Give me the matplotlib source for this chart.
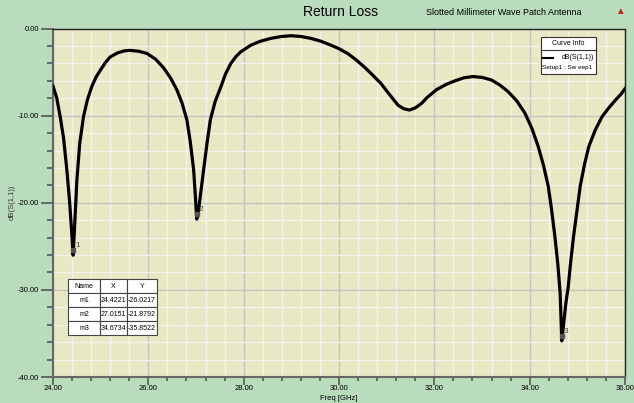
import numpy as np
import matplotlib.pyplot as plt
from matplotlib.ticker import MultipleLocator, FormatStrFormatter
from matplotlib.patches import Rectangle
from matplotlib.lines import Line2D

plt.rcParams['font.family'] = ['Liberation Sans Narrow', 'Liberation Sans', 'DejaVu Sans']

# S11
freq = [24.00, 24.08, 24.15, 24.22, 24.29, 24.35, 24.40, 24.4221, 24.46, 24.50,
        24.56, 24.64, 24.72, 24.81, 24.90, 24.99, 25.10, 25.20, 25.35, 25.50,
        25.62, 25.80, 25.97, 26.15, 26.32, 26.47, 26.60, 26.71, 26.81, 26.88,
        26.95, 26.99, 27.0151, 27.05, 27.10, 27.16, 27.23, 27.30, 27.40, 27.52,
        27.62, 27.73, 27.84, 27.94, 28.15, 28.35, 28.57, 28.80, 28.99, 29.20,
        29.41, 29.62, 29.83, 30.00, 30.18, 30.35, 30.53, 30.70, 30.88, 31.05,
        31.24, 31.36, 31.48, 31.60, 31.73, 31.85, 32.05, 32.25, 32.43, 32.62,
        32.81, 33.00, 33.20, 33.38, 33.55, 33.73, 33.90, 34.05, 34.18, 34.29,
        34.39, 34.46, 34.53, 34.59, 34.64, 34.6734, 34.72, 34.76, 34.81, 34.86,
        34.92, 35.06, 35.15, 35.24, 35.38, 35.52, 35.66, 35.80, 35.92, 36.00]
s11 = [-6.6, -8.0, -10.1, -12.5, -16.2, -20.0, -24.0, -26.0217, -22.0, -17.5,
       -13.2, -10.1, -8.2, -6.7, -5.6, -4.8, -3.9, -3.25, -2.8, -2.55,
       -2.5, -2.6, -2.85, -3.5, -4.5, -5.7, -7.05, -8.6, -10.5, -13.0,
       -16.2, -19.5, -21.8792, -21.0, -18.8, -16.2, -13.2, -10.5, -8.4, -6.7,
       -5.2, -4.0, -3.2, -2.66, -1.9, -1.45, -1.12, -0.9, -0.82, -0.9,
       -1.12, -1.45, -1.9, -2.3, -2.85, -3.55, -4.4, -5.3, -6.3, -7.5,
       -8.8, -9.2, -9.35, -9.1, -8.6, -7.9, -7.0, -6.4, -6.0, -5.65,
       -5.5, -5.6, -5.9, -6.5, -7.25, -8.3, -9.7, -11.5, -13.55, -15.7,
       -18.1, -20.8, -23.9, -27.0, -30.4, -35.8522, -33.5, -31.5, -29.6, -26.8,
       -23.9, -18.1, -15.6, -13.55, -11.6, -10.1, -9.1, -8.2, -7.5, -6.9]

marker_names = ['m1', 'm2', 'm3']
marker_x = [24.4221, 27.0151, 34.6734]
marker_y = [-26.0217, -21.8792, -35.8522]

bg = '#b8dcbc'
fig = plt.figure(figsize=(6.34, 4.03), dpi=100, facecolor=bg)
ax = fig.add_axes([0.0836, 0.0645, 0.9022, 0.8645])
ax.set_facecolor('#e8e8c4')

ax.plot(freq, s11, color='black', lw=2.3, solid_joinstyle='round', zorder=3)

# marker ids
for i, (mx, my) in enumerate(zip(marker_x, marker_y)):
    ax.plot(mx, my + 0.6, marker='s', ms=2.5, color='#555555', zorder=4)
    ax.text(mx + 0.04, my + 0.9, str(i + 1), fontsize=6, color='#444444', zorder=5)

ax.set_xlim(24, 36)
ax.set_ylim(-40, 0)
ax.xaxis.set_major_locator(MultipleLocator(2))
ax.xaxis.set_minor_locator(MultipleLocator(0.4))
ax.yaxis.set_major_locator(MultipleLocator(10))
ax.yaxis.set_minor_locator(MultipleLocator(2))
ax.xaxis.set_major_formatter(FormatStrFormatter('%.2f'))
ax.yaxis.set_major_formatter(FormatStrFormatter('%.2f'))
ax.grid(which='minor', color='#f4f4ea', lw=1.0)
ax.grid(which='major', color='#c4c4c0', lw=1.0)
ax.set_axisbelow(True)
ax.tick_params(which='both', width=1.2, color='#555555', labelsize=5.5, pad=1)
ax.tick_params(axis='y', which='major', length=9)
ax.tick_params(axis='y', which='minor', length=4)
ax.tick_params(axis='x', which='major', length=6, pad=0)
ax.tick_params(axis='x', which='minor', length=3)
for s in ['top', 'right']:
    ax.spines[s].set_color('#222222')
    ax.spines[s].set_linewidth(1.0)
for s in ['left', 'bottom']:
    ax.spines[s].set_color('#666666')
    ax.spines[s].set_linewidth(1.5)

ax.set_xlabel('Freq [GHz]', fontsize=5.5)
ax.xaxis.set_label_coords(0.5, -0.053)
ax.set_ylabel('dB(S(1,1))', fontsize=5.5, color='#333333')
ax.yaxis.set_label_coords(-0.066, 0.5)

fig.text(0.537, 0.97, 'Return Loss', ha='center', va='center', fontsize=10)
fig.text(0.917, 0.97, 'Slotted Millimeter Wave Patch Antenna', ha='right', va='center', fontsize=6.5)
fig.text(0.977, 0.972, '\u25b2', ha='center', va='center', fontsize=7, color='#cc2222')

# curve info box
W, H = 634.0, 403.0
def fx(px):
    return px / W
def fy(py):
    return 1 - py / H
fig.patches.append(Rectangle((fx(541), fy(74)), fx(596) - fx(541), fy(37) - fy(74),
                             transform=fig.transFigure, facecolor='white', edgecolor='#333333', lw=0.8, zorder=5))
fig.lines.append(Line2D([fx(541), fx(596)], [fy(50), fy(50)], transform=fig.transFigure,
                        color='#333333', lw=0.8, zorder=6))
fig.text(fx(568.5), fy(43.5), 'Curve Info', ha='center', va='center', fontsize=5, zorder=7)
fig.lines.append(Line2D([fx(543), fx(553)], [fy(58), fy(58)], transform=fig.transFigure,
                        color='black', lw=1.5, zorder=6))
fig.text(fx(594), fy(57.5), 'dB(S(1,1))', ha='right', va='center', fontsize=5, zorder=7)
fig.text(fx(542.5), fy(67.5), 'Setup1 : Sw eep1', ha='left', va='center', fontsize=4.6, zorder=7)

# marker table
cells = [[n, '%.4f' % x, '%.4f' % y] for n, x, y in zip(marker_names, marker_x, marker_y)]
tb = fig.add_axes([fx(68), fy(335), fx(157) - fx(68), fy(279) - fy(335)])
tb.axis('off')
table = tb.table(cellText=cells, colLabels=['Name', 'X', 'Y'], cellLoc='center',
                 bbox=[0, 0, 1, 1], colWidths=[0.36, 0.3, 0.34])
table.auto_set_font_size(False)
table.set_fontsize(5)
for (r, c), cell in table.get_celld().items():
    cell.set_edgecolor('#444444')
    cell.set_linewidth(0.8)
    cell.set_facecolor('white')

fig.savefig('out.png', dpi=100, facecolor=bg)
